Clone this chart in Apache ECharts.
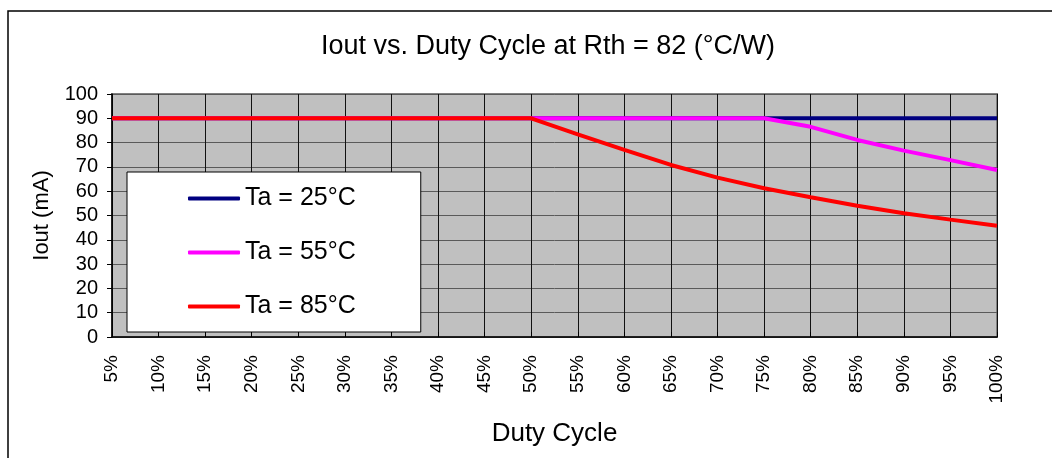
<!DOCTYPE html>
<html>
<head>
<meta charset="utf-8">
<script src="https://cdn.jsdelivr.net/npm/echarts@6/dist/echarts.min.js"></script>
<style>
html, body { margin: 0; padding: 0; background: #fff; }
#chart { width: 1052px; height: 458px; }
</style>
</head>
<body>
<div id="chart"></div>
<script>
// duty cycle categories
var dutyLabels = ['5%','10%','15%','20%','25%','30%','35%','40%','45%','50%',
	'55%','60%','65%','70%','75%','80%','85%','90%','95%','100%'];

var ta25 = [90,90,90,90,90,90,90,90,90,90,90,90,90,90,90,90,90,90,90,90];
var ta55 = [90,90,90,90,90,90,90,90,90,90,90,90,90,90,90,86.5,81.1,76.7,72.8,68.7];
var ta85 = [90,90,90,90,90,90,90,90,90,90,83.4,77.0,70.8,65.6,61.2,57.5,54.0,50.9,48.3,45.8];

var seriesNames = ['Ta = 25°C','Ta = 55°C','Ta = 85°C'];
var seriesColors = ['#000080','#ff00ff','#ff0000'];

var FONT = 'Liberation Sans, Arial, sans-serif';

function initPage()
{
	var values = [ta25, ta55, ta85];
	var series = [];
	for (var i = 0; i < values.length; i++)
	{
		series.push({
			name: seriesNames[i],
			type: 'line',
			data: values[i],
			symbol: 'none',
			color: seriesColors[i],
			lineStyle: { width: 4, color: seriesColors[i] },
			z: 3 + i
		});
	}

	var option = {
		animation: false,
		backgroundColor: '#fff',
		textStyle: { fontFamily: FONT },
		graphic: [
			{
				type: 'rect',
				shape: { x: 8, y: 11, width: 1100, height: 500 },
				style: { fill: 'none', stroke: '#000', lineWidth: 1.5 },
				silent: true,
				z: -1
			}
		],
		title: {
			text: 'Iout vs. Duty Cycle at Rth = 82 (°C/W)',
			left: 548,
			textAlign: 'center',
			top: 33,
			padding: 0,
			textStyle: { fontFamily: FONT, fontSize: 27, fontWeight: 'normal', color: '#000' }
		},
		grid: {
			left: 112,
			right: 55,
			top: 94,
			bottom: 121,
			show: true,
			backgroundColor: '#c0c0c0',
			borderColor: '#808080',
			borderWidth: 2
		},
		legend: {
			orient: 'vertical',
			left: 127,
			top: 172,
			data: seriesNames,
			icon: 'roundRect',
			itemWidth: 52,
			itemHeight: 4,
			itemGap: 29,
			padding: [14, 65, 13, 61],
			backgroundColor: '#fff',
			borderColor: '#000',
			borderWidth: 1,
			textStyle: { fontFamily: FONT, fontSize: 25, color: '#000' }
		},
		xAxis: {
			type: 'category',
			data: dutyLabels,
			boundaryGap: false,
			name: 'Duty Cycle',
			nameLocation: 'middle',
			nameGap: 84,
			nameTextStyle: { fontFamily: FONT, fontSize: 26, color: '#000' },
			axisLine: { lineStyle: { color: '#000', width: 1.5 } },
			axisTick: { inside: true, length: 5, lineStyle: { color: '#000' } },
			axisLabel: { rotate: 90, fontSize: 19, color: '#000', margin: 18, interval: 0 },
			splitLine: { show: true, lineStyle: { color: '#111', width: 1 } }
		},
		yAxis: {
			type: 'value',
			min: 0,
			max: 100,
			interval: 10,
			name: 'Iout (mA)',
			nameLocation: 'middle',
			nameGap: 59,
			nameTextStyle: { fontFamily: FONT, fontSize: 22, color: '#000' },
			axisLine: { show: true, lineStyle: { color: '#000', width: 1.5 } },
			axisTick: { show: true, length: 5, lineStyle: { color: '#000' } },
			axisLabel: { fontSize: 20, color: '#000', margin: 14 },
			splitLine: { show: true, lineStyle: { color: '#5a5a5a', width: 1 } }
		},
		series: series
	};

	var myChart = echarts.init(document.getElementById('chart'));
	myChart.setOption(option);
}

initPage();
</script>
</body>
</html>
